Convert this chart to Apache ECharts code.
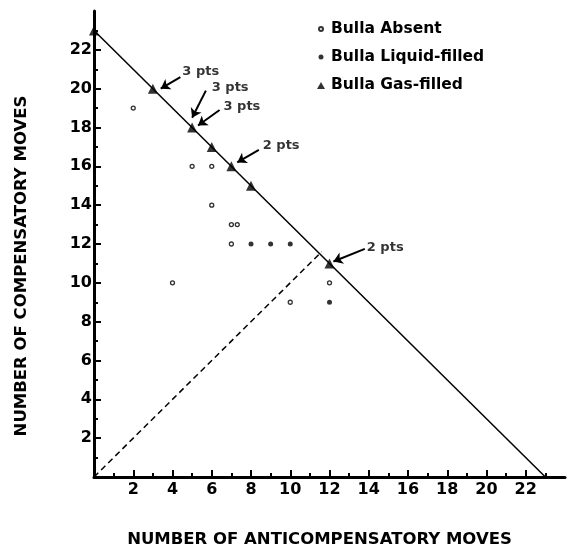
<!DOCTYPE html>
<html>
<head>
<meta charset="utf-8">
<script src="https://cdn.jsdelivr.net/npm/echarts@6/dist/echarts.min.js"></script>
<style>
  html, body { margin: 0; padding: 0; background: #fff; }
  #chart { width: 573px; height: 557px; }
</style>
</head>
<body>
<div id="chart"></div>
<script>
// points: [anticompensatory, compensatory]
const bullaAbsent = [[2, 19], [5, 16], [6, 16], [6, 14], [7, 13], [7.3, 13], [7, 12], [4, 10], [10, 9], [12, 10]];
const bullaLiquid = [[8, 12], [9, 12], [10, 12], [12, 9]];
const bullaGas = [[0, 23], [3, 20], [5, 18], [6, 17], [7, 16], [8, 15], [12, 11]];

// the two reference lines
const totalLine = [[0, 23], [23, 0]];
const equalLine = [[0, 0], [11.6, 11.6]];

// "n pts" callouts: text, where the text sits, arrow tail and head
const calloutText = ['3 pts', '3 pts', '3 pts', '2 pts', '2 pts'];
const calloutAt = [[4.5, 20.9], [6.0, 20.05], [6.6, 19.05], [8.6, 17.05], [13.9, 11.8]];
const arrowFrom = [[4.4, 20.6], [5.7, 19.9], [6.4, 18.9], [8.4, 16.85], [13.8, 11.75]];
const arrowTo = [[3.4, 20.0], [5.0, 18.5], [5.3, 18.1], [7.3, 16.2], [12.2, 11.1]];

const xTicks = [2, 4, 6, 8, 10, 12, 14, 16, 18, 20, 22];
const yTicks = [2, 4, 6, 8, 10, 12, 14, 16, 18, 20, 22];

const fontFamily = '"DejaVu Sans", "Liberation Sans", Arial, sans-serif';

const chart = echarts.init(document.getElementById('chart'), null, { renderer: 'canvas' });

const axisCommon = {
  type: 'value',
  min: 0,
  max: 24,
  interval: 2,
  splitLine: { show: false },
  axisLine: { lineStyle: { color: '#000', width: 3 } },
  axisTick: {
    inside: true,
    length: 7,
    lineStyle: { color: '#000', width: 2 }
  },
  minorTick: {
    show: true,
    splitNumber: 2,
    length: 4,
    lineStyle: { color: '#000', width: 2 }
  },
  axisLabel: {
    color: '#000',
    fontSize: 16,
    fontWeight: 'bold',
    fontFamily: fontFamily
  },
  nameLocation: 'middle',
  nameTextStyle: {
    color: '#000',
    fontSize: 16.5,
    fontWeight: 'bold',
    fontFamily: fontFamily
  }
};

const option = {
  animation: false,
  backgroundColor: '#fff',
  grid: { left: 94, right: 8, top: 11, bottom: 80 },
  legend: {
    orient: 'vertical',
    left: 315,
    top: 20,
    padding: 0,
    itemWidth: 10,
    itemHeight: 10,
    itemGap: 10,
    selectedMode: false,
    textStyle: {
      color: '#000',
      fontSize: 15.5,
      fontWeight: 'bold',
      fontFamily: fontFamily,
      lineHeight: 18
    },
    data: [
      { name: 'Bulla Absent', icon: 'path://M0,0M10,10M5,3a2,2 0 1,1 0,4a2,2 0 1,1 0,-4z' },
      { name: 'Bulla Liquid-filled', icon: 'path://M0,0M10,10M5,2.5a2.5,2.5 0 1,1 0,5a2.5,2.5 0 1,1 0,-5z' },
      { name: 'Bulla Gas-filled', icon: 'path://M0,0M10,10M1,9L5,2L9,9z' }
    ]
  },
  xAxis: Object.assign({}, axisCommon, {
    axisTick: Object.assign({}, axisCommon.axisTick, { customValues: xTicks }),
    axisLabel: Object.assign({}, axisCommon.axisLabel, { margin: 5, customValues: xTicks }),
    name: 'NUMBER OF ANTICOMPENSATORY MOVES',
    nameGap: 54,
    nameTextStyle: Object.assign({}, axisCommon.nameTextStyle, { padding: [0, 20, 0, 0] })
  }),
  yAxis: Object.assign({}, axisCommon, {
    axisTick: Object.assign({}, axisCommon.axisTick, { customValues: yTicks }),
    axisLabel: Object.assign({}, axisCommon.axisLabel, { margin: 2, customValues: yTicks }),
    name: 'NUMBER OF COMPENSATORY MOVES',
    nameGap: 64,
    nameTextStyle: Object.assign({}, axisCommon.nameTextStyle, { padding: [0, 44, 0, 0] })
  }),
  series: [
    {
      name: 'total',
      type: 'line',
      data: totalLine,
      symbol: 'none',
      silent: true,
      lineStyle: { color: '#000', width: 1.5 }
    },
    {
      name: 'equal',
      type: 'line',
      data: equalLine,
      symbol: 'none',
      silent: true,
      lineStyle: { color: '#000', width: 1.5, type: [6, 4] }
    },
    {
      name: 'Bulla Absent',
      type: 'scatter',
      data: bullaAbsent,
      symbol: 'circle',
      symbolSize: 4,
      clip: false,
      itemStyle: { color: '#fff', borderColor: '#000', borderWidth: 1.3 }
    },
    {
      name: 'Bulla Liquid-filled',
      type: 'scatter',
      data: bullaLiquid,
      symbol: 'circle',
      symbolSize: 5,
      clip: false,
      itemStyle: { color: '#000' }
    },
    {
      name: 'Bulla Gas-filled',
      type: 'scatter',
      data: bullaGas,
      symbol: 'triangle',
      symbolSize: 10,
      clip: false,
      itemStyle: { color: '#000' }
    },
    {
      name: 'callouts',
      type: 'scatter',
      symbolSize: 0,
      silent: true,
      data: calloutAt.map((p, i) => ({ value: p, label: { formatter: calloutText[i] } })),
      label: {
        show: true,
        position: 'right',
        distance: 0,
        color: '#000',
        fontSize: 13,
        fontWeight: 'bold',
        fontFamily: fontFamily
      },
      markLine: {
        silent: true,
        symbol: ['none', 'arrow'],
        symbolSize: 9,
        label: { show: false },
        lineStyle: { color: '#000', width: 2, type: 'solid' },
        data: arrowFrom.map((p, i) => [{ coord: p }, { coord: arrowTo[i] }])
      }
    }
  ]
};

chart.setOption(option);
</script>
</body>
</html>
